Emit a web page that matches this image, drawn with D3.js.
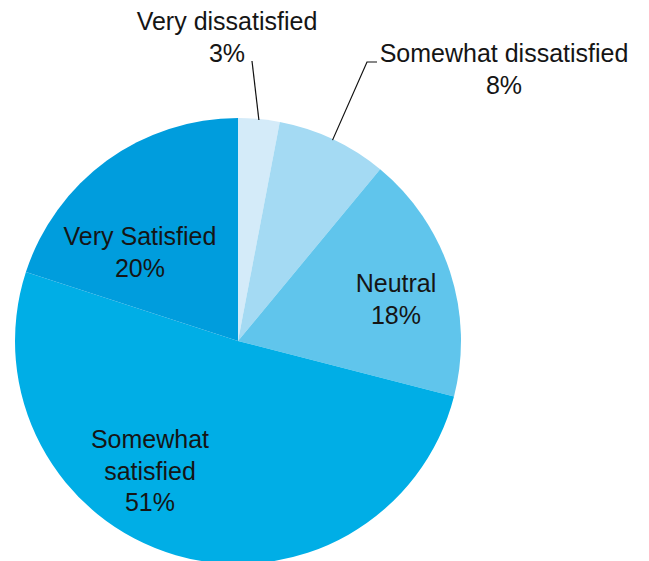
<!DOCTYPE html>
<html><head><meta charset="utf-8">
<script src="https://cdn.jsdelivr.net/npm/d3@7"></script>
<style>body{margin:0;background:#fff}svg{display:block}text{font-family:"Liberation Sans",Arial,sans-serif;font-size:25px;fill:#151515}</style>
</head><body>
<script>
const categories = ["Very dissatisfied","Somewhat dissatisfied","Neutral","Somewhat satisfied","Very Satisfied"];
const values = [3, 8, 18, 51, 20];
const colors = ["#d4ebf9","#a4daf3","#60c5ec","#00aee6","#009ddd"];
const labelLines = [["Very dissatisfied","3%"],["Somewhat dissatisfied","8%"],["Neutral","18%"],["Somewhat","satisfied","51%"],["Very Satisfied","20%"]];

const W=649,H=561, cx=238, cy=341, R=223;
const svg=d3.select("body").append("svg").attr("width",W).attr("height",H);
const pie=d3.pie().sort(null).value(d=>d)(values);
const arc=d3.arc().innerRadius(0).outerRadius(R);
const g=svg.append("g").attr("transform",`translate(${cx},${cy})`);
g.selectAll("path").data(pie).join("path").attr("d",arc).attr("fill",(d,i)=>colors[i]);

// label layout: [center x, first baseline y] in page pixels
const layout = [[227,30],[504,62],[396,292],[150,448],[140,245]];
const lh=31.5;
labelLines.forEach((lines,i)=>{
  const p = layout[i];
  const t = svg.append("text").attr("text-anchor","middle");
  lines.forEach((s,k)=>{
    t.append("tspan").attr("x",p[0]).attr("y",p[1]+k*lh).text(s);
  });
});
// leader lines
const mid = d => (d.startAngle+d.endAngle)/2;
const pt=(a,r)=>[cx+Math.sin(a)*r, cy-Math.cos(a)*r];
const line=d3.line();
svg.append("path").attr("d",line([pt(mid(pie[0]),R-1),[252,61]])).attr("stroke","#111").attr("stroke-width",1.2).attr("fill","none");
svg.append("path").attr("d",line([pt(mid(pie[1]),R-1),[367,62],[377,62]])).attr("stroke","#111").attr("stroke-width",1.2).attr("fill","none");
</script>
</body></html>
